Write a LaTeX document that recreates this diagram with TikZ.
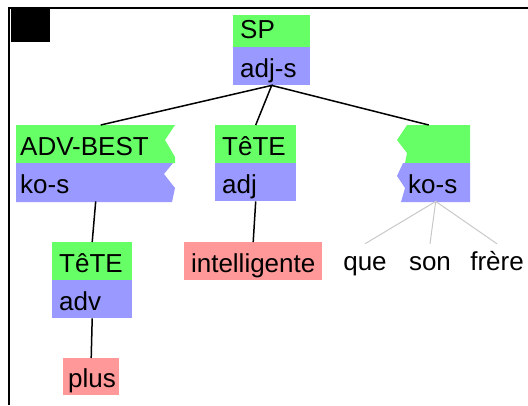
\documentclass[tikz,border=0pt]{standalone}
\usepackage{fontspec}
\setmainfont{Liberation Sans}
\usepackage{tikz}
\definecolor{catgreen}{RGB}{102,255,102}
\definecolor{fnblue}{RGB}{153,153,255}
\definecolor{lexpink}{RGB}{255,153,153}
\definecolor{lightedge}{RGB}{200,200,200}

\begin{document}
\begin{tikzpicture}[x=1pt,y=-1pt]

\useasboundingbox (0,0) rectangle (528,405);

% frame and black corner
\draw[line width=2.5pt] (528,8) -- (9,8) -- (9,405);
\fill[black] (11,9) rectangle (50,42);

  \tikzset{cat/.style={fill=catgreen, anchor=north west, minimum height=38pt, inner xsep=7pt, inner ysep=0pt, text height=22pt, text depth=0pt, align=left, font=\fontsize{26}{30}\selectfont}}
  \tikzset{fn/.style={cat, fill=fnblue}}
  \tikzset{lex/.style={cat, fill=lexpink, align=center, inner xsep=5pt}}
  \tikzset{torn/.style={fill=none}}
  \tikzset{word/.style={anchor=base, inner sep=4pt, text height=22pt, text depth=0pt, font=\fontsize{26}{30}\selectfont}}
  \tikzset{edge/.style={line width=1.5pt}}
  \tikzset{wordedge/.style={draw=lightedge, line width=1pt}}

% torn boxes
\fill[catgreen] (16,125) -- (175,125) -- (165,140) -- (175,157) -- (175,163) -- (16,163) -- cycle;
\fill[fnblue] (16,163) -- (173,163) -- (164,174) -- (175,188) -- (172,202) -- (16,202) -- cycle;
\fill[catgreen] (407,125) -- (470,125) -- (470,163) -- (405,163) -- (407,153) -- (397,140) -- cycle;
\fill[fnblue] (403,163) -- (470,163) -- (470,202) -- (401,202) -- (405,188) -- (397,176) -- cycle;

\node[cat, text width=63pt, minimum height=32pt, text height=14pt] (sp) at (233,15) {SP};
\node[fn, text width=63pt] (spf) at (233,47) {adj-s};

\node[cat, torn, inner xsep=4pt, text width=151pt] (adv) at (16,125) {ADV-BEST};
\node[fn, torn, inner xsep=4pt, text width=151pt] (advf) at (16,163) {ko-s};

\node[cat, text width=67pt] (tadj) at (215,125) {TêTE};
\node[fn, text width=67pt] (tadjf) at (215,163) {adj};

\node[cat, torn, text width=55pt] (rc) at (401,125) {};
\node[fn, torn, text width=55pt] (rcf) at (401,163) {ko-s};

\node[cat, text width=66pt] (tadv) at (52,242) {TêTE};
\node[fn, text width=66pt] (tadvf) at (52,280) {adv};

\node[lex, text width=128pt] (intel) at (184,242) {intelligente};
\node[lex, text width=46pt, minimum height=37pt] (plus) at (63,358) {plus};

\node[word] (que) at (365,270) {que};
\node[word] (son) at (430,270) {son};
\node[word] (frere) at (497,270) {frère};

\draw[edge] ([xshift=5pt]adv.north) -- (spf.south) -- (tadj.north);
\draw[edge] (spf.south) -- ([xshift=-7pt]rc.north);
\draw[edge] (advf.south) -- (tadv.north);
\draw[edge] (tadjf.south) -- (intel.north);
\draw[edge] (tadvf.south) -- (plus.north);

\draw[wordedge] (que.north) -- (rcf.south) -- (son.north);
\draw[wordedge] (rcf.south) -- (frere.north);

\end{tikzpicture}
\end{document}
